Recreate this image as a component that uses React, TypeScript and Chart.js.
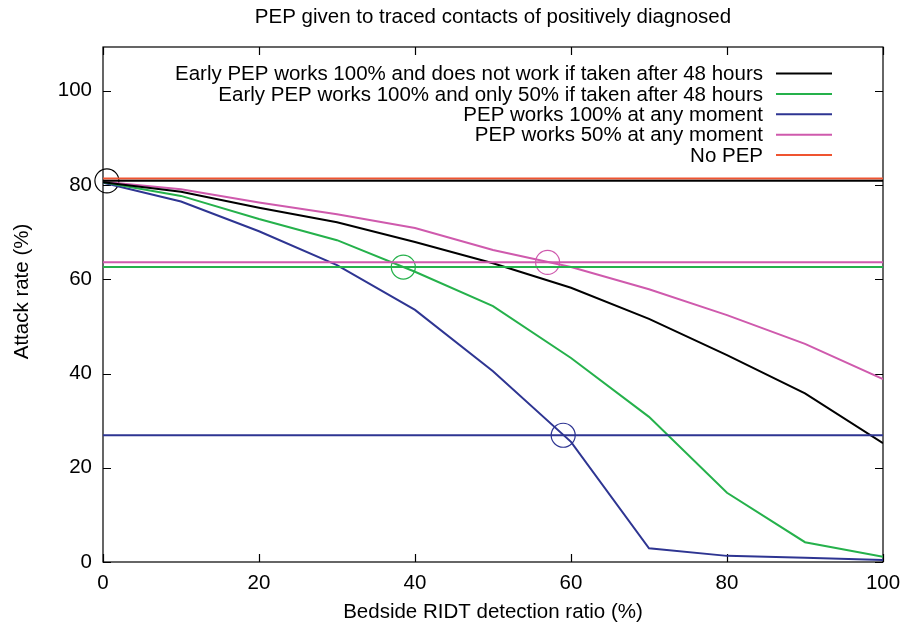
import React, { useEffect, useRef } from "react";
import { Chart, registerables } from "chart.js";

Chart.register(...registerables);

// Detection ratio (%) at which each scenario was simulated
const detectionRatio = [0, 10, 20, 30, 40, 50, 60, 70, 80, 90, 100];

// Attack rate (%) for each scenario
const earlyFullThenNone = [80.6, 78.6, 75.2, 72.1, 67.9, 63.4, 58.2, 51.6, 43.9, 35.8, 25.2];
const earlyFullThenHalf = [80.6, 77.7, 72.8, 68.3, 61.6, 54.3, 43.3, 30.8, 14.7, 4.2, 1.1];
const fullAnyMoment = [80.5, 76.5, 70.2, 63.0, 53.5, 40.5, 25.5, 2.9, 1.3, 0.9, 0.4];
const halfAnyMoment = [80.7, 79.1, 76.3, 73.8, 70.9, 66.2, 62.6, 57.9, 52.4, 46.3, 38.8];

// Reference attack-rate levels (%) drawn as horizontal lines
const noPepLevel = 81.4;
const earlyFullThenNoneLevel = 80.9;
const earlyFullThenHalfLevel = 62.6;
const fullAnyMomentLevel = 26.9;
const halfAnyMomentLevel = 63.6;

// Highlighted operating points: [detection ratio, attack rate]
const markEarlyFullThenNone = [0.5, 80.9];
const markEarlyFullThenHalf = [38.5, 62.6];
const markFullAnyMoment = [59.0, 26.9];
const markHalfAnyMoment = [57.0, 63.6];

const xTicks = [0, 20, 40, 60, 80, 100];
const yTicks = [0, 20, 40, 60, 80, 100];

const chartTitle = "PEP given to traced contacts of positively diagnosed";
const xTitle = "Bedside RIDT detection ratio (%)";
const yTitle = "Attack rate (%)";

const legendLabels = [
  "Early PEP works 100% and does not work if taken after 48 hours",
  "Early PEP works 100% and only 50% if taken after 48 hours",
  "PEP works 100% at any moment",
  "PEP works 50% at any moment",
  "No PEP",
];

const BLACK = "#000000";
const GREEN = "#25b14b";
const BLUE = "#2e3592";
const MAGENTA = "#cf5aad";
const ORANGE = "#ef5430";
const legendColors = [BLACK, GREEN, BLUE, MAGENTA, ORANGE];

const FONT = "'Liberation Sans', Arial, Helvetica, sans-serif";
const FONT_SIZE = 20.5;

const toPoints = (ys: number[]) => ys.map((y, i) => ({ x: detectionRatio[i], y }));
const level = (y: number) => [
  { x: 0, y },
  { x: 100, y },
];

// Gnuplot-style frame: box border with inward ticks mirrored on all four sides
const framePlugin = {
  id: "frame",
  beforeDatasetsDraw(chart: any) {
    const { ctx, chartArea: a, scales } = chart;
    const len = 8;
    ctx.save();
    ctx.strokeStyle = "#000";
    ctx.lineWidth = 1.2;
    ctx.beginPath();
    for (const v of xTicks) {
      const px = Math.round(scales.x.getPixelForValue(v)) + 0.5;
      ctx.moveTo(px, a.bottom);
      ctx.lineTo(px, a.bottom - len);
      ctx.moveTo(px, a.top);
      ctx.lineTo(px, a.top + len);
    }
    for (const v of yTicks) {
      const py = Math.round(scales.y.getPixelForValue(v)) + 0.5;
      ctx.moveTo(a.left, py);
      ctx.lineTo(a.left + len, py);
      ctx.moveTo(a.right, py);
      ctx.lineTo(a.right - len, py);
    }
    ctx.stroke();
    ctx.strokeRect(a.left, a.top, a.right - a.left, a.bottom - a.top);
    ctx.restore();
  },
};

// Titles: the chart title centred over the plot, the rotated y-axis title beside it
const titlesPlugin = {
  id: "titles",
  afterDraw(chart: any) {
    const { ctx, chartArea: a } = chart;
    ctx.save();
    ctx.font = `${FONT_SIZE}px ${FONT}`;
    ctx.fillStyle = "#000";
    ctx.textAlign = "center";
    ctx.textBaseline = "middle";
    ctx.fillText(chartTitle, (a.left + a.right) / 2, 17);
    ctx.translate(22, (a.top + a.bottom) / 2 - 13);
    ctx.rotate(-Math.PI / 2);
    ctx.fillText(yTitle, 0, 0);
    ctx.restore();
  },
};

// Legend in the upper right: right-aligned text followed by a line sample
const keyPlugin = {
  id: "key",
  afterDatasetsDraw(chart: any) {
    const { ctx } = chart;
    const textRight = 763;
    const lineStart = 776;
    const lineEnd = 832;
    const firstRow = 73.5;
    const rowStep = 20.4;
    ctx.save();
    ctx.font = `${FONT_SIZE}px ${FONT}`;
    ctx.textAlign = "right";
    ctx.textBaseline = "middle";
    legendLabels.forEach((label, i) => {
      const y = firstRow + i * rowStep;
      ctx.fillStyle = "#000";
      ctx.fillText(label, textRight, y + 1);
      ctx.strokeStyle = legendColors[i];
      ctx.lineWidth = 2;
      ctx.beginPath();
      ctx.moveTo(lineStart, y);
      ctx.lineTo(lineEnd, y);
      ctx.stroke();
    });
    ctx.restore();
  },
};

export default function App() {
  const canvasRef = useRef<HTMLCanvasElement | null>(null);

  useEffect(() => {
    if (!canvasRef.current) return;

    const curve = (data: number[], color: string) => ({
      data: toPoints(data),
      borderColor: color,
      backgroundColor: color,
      borderWidth: 2,
      pointRadius: 0,
      tension: 0,
    });
    const flat = (y: number, color: string) => ({
      data: level(y),
      borderColor: color,
      backgroundColor: color,
      borderWidth: 2,
      pointRadius: 0,
    });
    const mark = (p: number[], color: string) => ({
      data: [{ x: p[0], y: p[1] }],
      showLine: false,
      borderColor: color,
      backgroundColor: "rgba(0,0,0,0)",
      pointRadius: 12,
      pointBorderWidth: 1.2,
      pointStyle: "circle",
      clip: false,
    });

    const chart = new Chart(canvasRef.current, {
      type: "line",
      data: {
        datasets: [
          flat(earlyFullThenNoneLevel, BLACK),
          flat(earlyFullThenHalfLevel, GREEN),
          flat(fullAnyMomentLevel, BLUE),
          flat(halfAnyMomentLevel, MAGENTA),
          flat(noPepLevel, ORANGE),
          curve(earlyFullThenNone, BLACK),
          curve(earlyFullThenHalf, GREEN),
          curve(fullAnyMoment, BLUE),
          curve(halfAnyMoment, MAGENTA),
          mark(markEarlyFullThenNone, BLACK),
          mark(markEarlyFullThenHalf, GREEN),
          mark(markFullAnyMoment, BLUE),
          mark(markHalfAnyMoment, MAGENTA),
        ] as any,
      },
      options: {
        responsive: false,
        animation: false,
        events: [],
        layout: { padding: { left: 0, right: 21, top: 47, bottom: 0 } },
        plugins: {
          legend: { display: false },
          tooltip: { enabled: false },
        },
        scales: {
          x: {
            type: "linear",
            min: 0,
            max: 100,
            afterBuildTicks: (scale: any) => {
              scale.ticks = xTicks.map((value) => ({ value }));
            },
            afterFit: (scale: any) => {
              scale.height = 68;
              scale.paddingLeft = 0;
              scale.paddingRight = 0;
            },
            grid: { display: false, drawTicks: false },
            border: { display: false },
            ticks: {
              color: "#000",
              padding: 9,
              maxRotation: 0,
              font: { family: FONT, size: FONT_SIZE },
            },
            title: {
              display: true,
              text: xTitle,
              color: "#000",
              font: { family: FONT, size: FONT_SIZE },
              padding: { top: 0, bottom: 5.7 },
            },
          },
          y: {
            type: "linear",
            min: 0,
            max: 109.3,
            afterBuildTicks: (scale: any) => {
              scale.ticks = yTicks.map((value) => ({ value }));
            },
            afterFit: (scale: any) => {
              scale.width = 103;
              scale.paddingTop = 0;
              scale.paddingBottom = 0;
            },
            grid: { display: false, drawTicks: false },
            border: { display: false },
            ticks: {
              color: "#000",
              padding: 11,
              font: { family: FONT, size: FONT_SIZE },
            },
            title: { display: false },
          },
        },
      } as any,
      plugins: [framePlugin, keyPlugin, titlesPlugin],
    });

    return () => chart.destroy();
  }, []);

  return (
    <div style={{ position: "absolute", left: 0, top: 0, width: 904, height: 630, background: "#fff" }}>
      <canvas ref={canvasRef} width={904} height={630} />
    </div>
  );
}
